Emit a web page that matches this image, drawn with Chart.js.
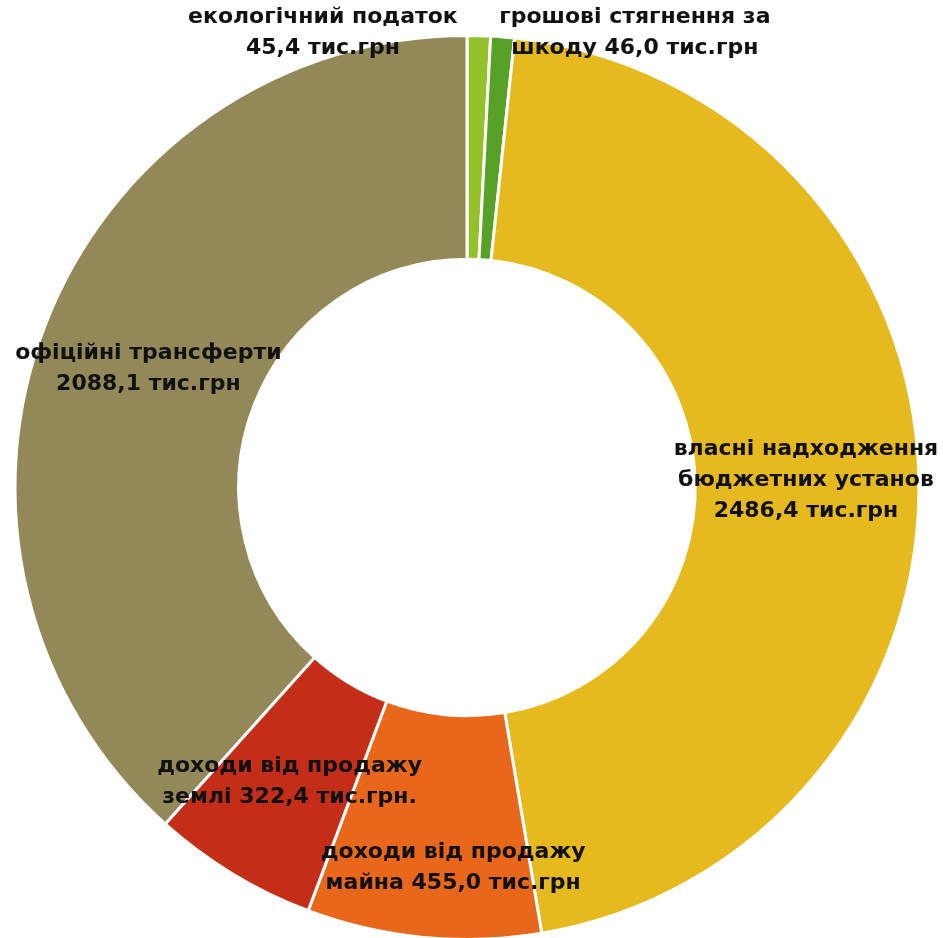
<!DOCTYPE html>
<html>
<head>
<meta charset="utf-8">
<script src="https://cdn.jsdelivr.net/npm/chart.js@4/dist/chart.umd.min.js"></script>
<style>
  html, body { margin: 0; padding: 0; background: #fff; overflow: hidden; }
  #wrap { width: 943px; height: 960px; }
</style>
</head>
<body>
<div id="wrap"><canvas id="budgetChart"></canvas></div>
<script>
// структура доходів, тис.грн
const categories = [
    ['екологічний податок', '45,4 тис.грн'],
    ['грошові стягнення за', 'шкоду 46,0 тис.грн'],
    ['власні надходження', 'бюджетних установ', '2486,4 тис.грн'],
    ['доходи від продажу', 'майна 455,0 тис.грн'],
    ['доходи від продажу', 'землі 322,4 тис.грн.'],
    ['офіційні трансферти', '2088,1 тис.грн']
];
const values = [45.4, 46.0, 2486.4, 455.0, 322.4, 2088.1];
const colors = ['#93c12a', '#57a226', '#e6b91f', '#e8671a', '#c42e19', '#938857'];

// зсув підписів від середини сектора (як в Excel)
const labelShift = [[-153, -115], [141, -116], [-1, 3], [19, 42], [-1, 3], [-1, 3]];

const sliceLabels = {
    id: 'sliceLabels',
    afterDatasetsDraw(chart) {
        const ctx = chart.ctx;
        const arcs = chart.getDatasetMeta(0).data;
        ctx.save();
        ctx.font = 'bold 22px "DejaVu Sans"';
        ctx.fillStyle = '#111';
        ctx.textAlign = 'center';
        ctx.textBaseline = 'middle';
        const lineH = 31;
        arcs.forEach((arc, i) => {
            const p = arc.tooltipPosition();
            const lines = categories[i];
            const x = p.x + labelShift[i][0];
            const y0 = p.y + labelShift[i][1] - (lines.length - 1) * lineH / 2;
            lines.forEach((t, k) => ctx.fillText(t, x, y0 + k * lineH));
        });
        ctx.restore();
    }
};

new Chart(document.getElementById('budgetChart'), {
    type: 'doughnut',
    data: {
        labels: categories,
        datasets: [{
            data: values,
            backgroundColor: colors,
            borderColor: '#fff',
            borderWidth: 3
        }]
    },
    options: {
        responsive: true,
        maintainAspectRatio: false,
        animation: false,
        cutout: '50.5%',
        layout: { padding: { top: 34, bottom: 19, left: 12, right: 21 } },
        plugins: {
            legend: { display: false },
            tooltip: { enabled: false }
        }
    },
    plugins: [sliceLabels]
});
</script>
</body>
</html>
